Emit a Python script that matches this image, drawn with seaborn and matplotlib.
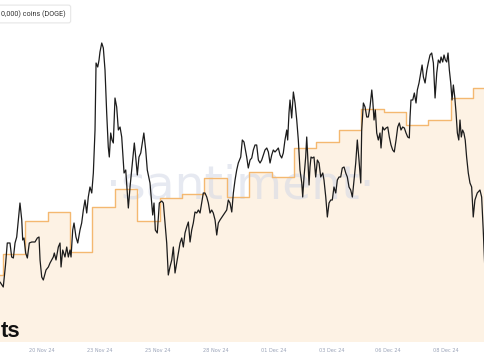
import numpy as np
import matplotlib
matplotlib.use("Agg")
import matplotlib.pyplot as plt
import seaborn as sns

# ---- data ----
# DOGE price (USD, estimated scale) at hours after the first daily boundary
price_hours = [
    -2.9, 0.6, 3.0, 4.9, 7.8, 9.6, 11.4, 13.2, 15.0, 16.7,
    18.5, 20.4, 21.4, 22.8, 24.6, 26.4, 28.5, 31.1, 34.6, 37.1,
    38.9, 40.0, 41.8, 43.5, 46.4, 48.9, 50.7, 52.5, 54.2, 55.3,
    57.1, 59.6, 61.4, 62.5, 64.3, 66.7, 68.6, 70.3, 72.1, 73.2,
    75.0, 76.4, 78.5, 80.4, 82.8, 84.6, 86.4, 88.2, 90.0, 91.7,
    93.5, 95.4, 97.1, 98.9, 100.0, 101.8, 103.2, 104.2, 106.1, 107.8,
    109.6, 111.4, 113.1, 114.2, 115.7, 117.1, 118.5, 120.3, 122.1, 123.9,
    125.7,
    127.5, 130.0, 131.8, 134.6, 136.4, 138.9, 141.0, 142.5, 144.2, 146.0,
    147.9, 149.6, 151.2, 153.2, 154.9, 157.8, 159.6, 160.7, 162.1, 163.5,
    165.6, 167.8, 170.4, 172.1, 173.9, 175.7, 177.4, 179.2, 181.1, 182.8,
    184.6, 186.4, 188.1, 190.0, 191.8, 193.5, 195.3, 197.1, 198.9, 200.7,
    202.5, 204.2, 206.0, 207.9, 209.6, 211.4, 213.2, 214.9, 216.7, 218.6,
    220.3, 222.1, 223.9, 225.6, 227.5, 229.3, 231.0, 232.8, 236.4, 240.0,
    241.7, 243.5, 245.4, 247.1, 248.9, 250.7, 252.4, 255.0, 256.7, 258.5,
    261.4, 263.1, 265.0, 266.8, 268.5, 270.3, 272.1, 273.9, 275.7, 277.5,
    279.2, 281.0, 282.9, 284.6, 286.4, 288.2, 289.9, 291.7, 293.6, 295.3,
    297.1, 298.9, 300.6, 302.4, 304.3, 305.3, 306.7, 307.8, 309.6, 311.4,
    313.2, 315.0, 316.7, 318.5, 320.4, 321.4, 322.8, 324.6, 325.7, 326.8,
    328.2, 329.2, 330.3, 331.7, 333.5, 335.3, 337.1, 338.9, 340.7, 342.9,
    344.2, 346.1, 347.8, 349.6, 351.4, 353.1, 354.9, 356.8, 358.5, 360.3,
    362.1, 363.8, 365.7, 367.5, 369.2, 371.0, 372.8, 374.6, 376.4, 378.2,
    379.9, 381.7, 383.6,
    384.6, 386.4, 388.2, 390.0, 391.7, 393.5, 395.4, 396.4, 397.8, 399.2,
    400.7, 402.4, 404.2, 405.3, 407.1, 408.8, 410.7, 412.5, 414.2, 416.0,
    417.8, 419.5, 421.4, 423.2, 424.9, 426.7, 428.5, 430.3, 432.1, 433.9,
    435.6, 436.4, 437.4, 439.3, 441.0, 442.8, 444.2, 446.0, 447.9, 449.3,
    450.7, 452.5, 454.4, 456.1, 457.8, 459.6, 461.4, 463.2, 465.0, 466.7,
    468.5, 469.6, 471.4, 472.8, 474.2, 475.7, 477.1, 478.5, 480.0, 481.4,
    482.8, 484.3, 485.7, 487.1, 488.6, 489.9, 491.3, 492.7, 494.1, 495.5,
    497.0, 498.8, 500.6, 502.4, 504.1, 505.9, 508.4, 511.3, 513.1, 514.8,
    516.6,
]
price_usd = [
    .318, .313, .335, .357, .357, .343, .342, .357, .363, .380,
    .397, .380, .360, .362, .347, .342, .357, .358, .358, .362,
    .363, .340, .323, .320, .330, .333, .337, .340, .343, .347,
    .340, .353, .357, .333, .350, .343, .353, .343, .350, .343,
    .370, .377, .363, .357, .370, .377, .390, .400, .387, .403,
    .413, .407, .427, .470, .537, .533, .540, .548, .557, .552,
    .530, .487, .453, .443, .467, .460, .457, .502, .493, .470,
    .473,
    .463, .427, .430, .392, .413, .437, .457, .443, .425, .443,
    .447, .457, .467, .450, .430, .417, .397, .385, .397, .370,
    .367, .397, .399, .397, .377, .357, .325, .333, .340, .353,
    .327, .337, .347, .357, .362, .353, .367, .373, .378, .358,
    .370, .377, .388, .387, .390, .387, .397, .407, .407, .403,
    .397, .387, .390, .387, .380, .365, .377, .380, .385, .390,
    .400, .397, .388, .407, .420, .430, .437, .443, .460, .458,
    .443, .432, .440, .442, .450, .455, .455, .440, .437, .440,
    .445, .450, .452, .448, .437, .445, .450, .448, .450, .452,
    .445, .442, .447, .460, .470, .460, .487, .500, .482, .508,
    .497, .480, .460, .430, .417, .403, .423, .443, .463, .443,
    .415, .433, .443, .442, .443, .423, .440, .437, .423, .427,
    .420, .403, .383, .397, .400, .400, .413, .407, .420, .423,
    .423, .432, .433, .427, .423, .413, .410, .403, .420, .437,
    .460, .440, .417,
    .470, .497, .493, .483, .483, .493, .510, .500, .480, .490,
    .467, .460, .467, .452, .473, .470, .472, .473, .463, .455,
    .450, .448, .460, .473, .477, .470, .473, .472, .467, .463,
    .462, .483, .500, .500, .507, .497, .510, .517, .527, .535,
    .523, .517, .530, .538, .545, .547, .537, .502, .527, .540,
    .537, .543, .538, .545, .540, .538, .547, .530, .517, .500,
    .515, .503, .487, .467, .460, .480, .463, .470, .467, .460,
    .443, .427, .417, .413, .383, .400, .407, .410, .403, .370,
    .330,
]
assert len(price_hours) == len(price_usd), (len(price_hours), len(price_usd))

# daily number of holder addresses (estimated scale), day -1 .. day 21
holder_counts = [3250, 3460, 3790, 3880, 3480, 3930, 4110, 3790, 4020, 4060,
                 4220, 4030, 4280, 4230, 4520, 4580, 4700, 4910, 4880, 4750,
                 4800, 5020, 5120]

tick_hours = [42, 104, 166, 228, 290, 352, 413, 475]
tick_labels = ["20 Nov 24", "23 Nov 24", "25 Nov 24", "28 Nov 24",
               "01 Dec 24", "03 Dec 24", "06 Dec 24", "08 Dec 24"]

legend_text = "0,000) coins (DOGE)"
corner_word = "ts"
watermark = "\u00b7santiment\u00b7"

# ---- styling ----
FILL = "#fdf2e4"
ORANGE = "#f4b870"
PRICE = "#1c1c1c"

sns.set_theme(style="white")
plt.rcParams["font.family"] = ["DejaVu Sans"]

W, H = 485, 360
fig = plt.figure(figsize=(W / 100, H / 100), dpi=100)
fig.patch.set_facecolor("white")
ax = fig.add_axes([0, 18 / H, 1, 342 / H])
ax.set_facecolor("white")

# holders: daily step series with filled area
day_edges = 24 * (np.arange(len(holder_counts) + 1) - 1)
step_x = day_edges
step_y = holder_counts + holder_counts[-1:]
ax.fill_between(step_x, step_y, 0, step="post", color=FILL, lw=0, zorder=1)
sns.lineplot(x=step_x, y=step_y, ax=ax, drawstyle="steps-post", color=ORANGE,
             lw=1.0, estimator=None, zorder=3)
ax.set_ylim(2580, 6000)

ax.text(0.495, 0.455, watermark, transform=ax.transAxes, ha="center",
        va="center", fontsize=34, color="#d3d8e6", alpha=0.55, zorder=2)

# price line on twin axis
ax2 = ax.twinx()
sns.lineplot(x=price_hours, y=price_usd, ax=ax2, color=PRICE, lw=0.9,
             estimator=None, sort=False, zorder=4)
ax2.set_ylim(0.258, 0.600)

for a in (ax, ax2):
    a.set_xlim(-2.9, 516.7)
    a.set_ylabel("")
    a.set_xlabel("")
    a.set_yticks([])
    for s in a.spines.values():
        s.set_visible(False)

ax.set_xticks(tick_hours)
ax.set_xticklabels(tick_labels)
ax.tick_params(axis="x", length=0, pad=4.3, labelsize=3.6,
               labelcolor="#9aa3b8")

# top-left legend box (cropped in the reference)
fig.text(1 / W, 1 - 14 / H, legend_text, ha="left", va="center",
         fontsize=5.2, color="#333333", family="Roboto",
         bbox=dict(boxstyle="round,pad=0.7,rounding_size=0.3", fc="white",
                   ec="#e6e6e6", lw=0.8))

# large bold word at bottom-left
fig.text(1 / W, 1 - 337 / H, corner_word, ha="left", va="baseline",
         fontsize=16, fontweight="bold", color="#111111",
         family="Liberation Sans")

fig.savefig("out.png", dpi=100)
